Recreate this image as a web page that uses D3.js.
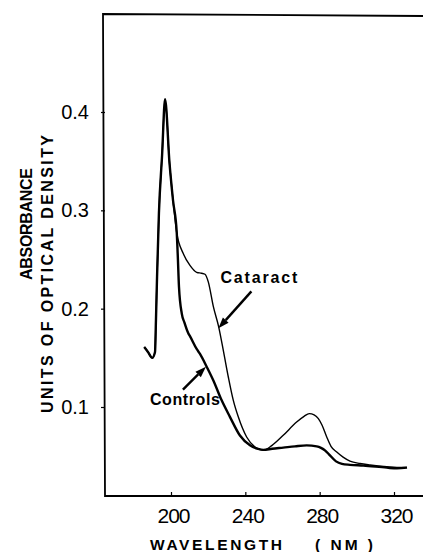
<!DOCTYPE html>
<html>
<head>
<meta charset="utf-8">
<script src="https://cdn.jsdelivr.net/npm/d3@7"></script>
<style>
    body { margin: 0; background: #fff; }
    svg { display: block; }
</style>
</head>
<body>
<svg id="spectrum" width="423" height="552"></svg>
<script>
// Data
const xTicks = [200, 240, 280, 320];
const yTicks = [0.1, 0.2, 0.3, 0.4];

const controlsWavelength = [185.6, 187.6, 189.9, 191.4, 191.9, 192.5, 193.5, 195.2, 196.8, 199.2, 201.1, 203.1,
    203.6, 204.3, 205.8, 207.2, 209.3, 210.2, 213.8, 215.6, 219.2, 222.8, 227.2, 231.7, 237.1, 242.5, 246.8, 249.7,
    254.4, 260.4, 266.7, 273.0, 278.4, 280.7, 283.0, 285.0, 288.8, 292.0, 296.3, 303.5, 316.1, 321.6, 327.0];
const controlsAbsorbance = [0.161, 0.156, 0.150, 0.156, 0.188, 0.233, 0.297, 0.356, 0.413, 0.348, 0.310, 0.277,
    0.256, 0.222, 0.195, 0.186, 0.175, 0.172, 0.159, 0.154, 0.141, 0.127, 0.107, 0.090, 0.071, 0.061, 0.0575, 0.0564,
    0.0575, 0.0587, 0.060, 0.061, 0.060, 0.0585, 0.0557, 0.0519, 0.0447, 0.0422, 0.0412, 0.0404, 0.0383, 0.0376, 0.0383];

const cataractWavelength = [185.6, 187.6, 189.9, 191.4, 191.9, 192.5, 193.5, 195.2, 196.8, 199.2, 201.1, 203.1,
    206.6, 210.2, 213.8, 216.5, 218.3, 220.1, 222.8, 225.6, 228.3, 230.9, 233.5, 236.2, 240.7, 245.2, 249.7,
    254.4, 260.4, 267.6, 271.6, 274.4, 277.0, 279.3, 281.3, 283.8, 286.1, 289.2, 292.6, 296.3, 301.7, 307.1,
    316.1, 321.6, 327.0];
const cataractAbsorbance = [0.161, 0.156, 0.150, 0.156, 0.188, 0.233, 0.297, 0.356, 0.413, 0.348, 0.310, 0.277,
    0.256, 0.244, 0.237, 0.236, 0.235, 0.227, 0.202, 0.182, 0.156, 0.130, 0.107, 0.090, 0.0695, 0.0593, 0.056,
    0.061, 0.0712, 0.0847, 0.0905, 0.0933, 0.092, 0.0882, 0.0814, 0.0695, 0.060, 0.0542, 0.0490, 0.0450, 0.0425, 0.0410,
    0.0392, 0.0385, 0.0386];

const annotLabels = ["Cataract", "Controls"];
const annotWavelength = [225.5, 218.8];
const annotAbsorbance = [0.180, 0.141];

// The svg
const svg = d3.select("#spectrum");
const frame = { left: 105, right: 423, top: 14, bottom: 496 };
const font = "Liberation Sans, Arial, sans-serif";

// scales pinned to the printed ticks
const x = d3.scaleLinear().domain([200, 320]).range([171, 394]);
const y = d3.scaleLinear().domain([0.1, 0.4]).range([407, 112]);

// open frame: top, left and bottom lines
svg.append("path")
    .attr("d", `M${frame.right},${frame.top + 2}L${frame.left - 2},${frame.top}L${frame.left},${frame.bottom}L${frame.right},${frame.bottom}`)
    .attr("fill", "none")
    .attr("stroke", "#000")
    .attr("stroke-width", 1.8);

// y axis
const yAxis = svg.append("g")
    .attr("transform", `translate(${frame.left},0)`)
    .call(d3.axisLeft(y).tickValues(yTicks).tickSize(4).tickPadding(12).tickFormat(d3.format(".1f")));
yAxis.select(".domain").remove();
yAxis.selectAll("line").attr("stroke-width", 1.2);
yAxis.selectAll("text")
    .attr("font-family", font)
    .attr("font-size", 20)
    .attr("fill", "#000");

// x axis
const xAxis = svg.append("g")
    .attr("transform", `translate(0,${frame.bottom})`)
    .call(d3.axisBottom(x).tickValues(xTicks).tickSize(-4).tickPadding(12));
xAxis.select(".domain").remove();
xAxis.selectAll("line").attr("stroke-width", 1.2);
xAxis.selectAll("text")
    .attr("font-family", font)
    .attr("font-size", 21)
    .attr("letter-spacing", -1)
    .attr("dx", 2)
    .attr("fill", "#000");

// axis titles
function title(sel, size, len, txt) {
    return sel.append("text")
        .attr("font-family", font).attr("font-weight", "bold").attr("font-size", size)
        .attr("textLength", len).attr("lengthAdjust", "spacing")
        .text(txt);
}
title(svg, 16, 112, "ABSORBANCE")
    .attr("transform", "translate(31.5,224) rotate(-90)")
    .attr("text-anchor", "middle");
title(svg, 16, 278, "UNITS OF OPTICAL DENSITY")
    .attr("transform", "translate(53,274) rotate(-90)")
    .attr("text-anchor", "middle");
title(svg, 15.5, 132, "WAVELENGTH").attr("x", 150).attr("y", 550);
title(svg, 15.5, 58, "( NM )").attr("x", 315).attr("y", 550);

// curves
const line = d3.line()
    .x(d => x(d[0]))
    .y(d => y(d[1]))
    .curve(d3.curveMonotoneX);

svg.append("path")
    .datum(d3.zip(cataractWavelength, cataractAbsorbance))
    .attr("d", line)
    .attr("fill", "none")
    .attr("stroke", "#000")
    .attr("stroke-width", 1.4)
    .attr("stroke-linejoin", "round");

svg.append("path")
    .datum(d3.zip(controlsWavelength, controlsAbsorbance))
    .attr("d", line)
    .attr("fill", "none")
    .attr("stroke", "#000")
    .attr("stroke-width", 2.4)
    .attr("stroke-linejoin", "round");

// annotations: arrow tail and label offsets from the tip, in px
const annotLayout = [
    { tail: [33, -37], text: [2, -45], len: 77 },
    { tail: [-23, 23], text: [-56, 38], len: 70 }
];

annotLabels.forEach((label, i) => {
    const tx = x(annotWavelength[i]), ty = y(annotAbsorbance[i]);
    const lay = annotLayout[i];
    const ax = tx + lay.tail[0], ay = ty + lay.tail[1];
    const len = Math.hypot(ax - tx, ay - ty);
    const ux = (ax - tx) / len, uy = (ay - ty) / len;
    const headLen = 11, headW = 3.8;
    const bx = tx + ux * headLen, by = ty + uy * headLen;

    svg.append("line")
        .attr("x1", ax).attr("y1", ay)
        .attr("x2", bx).attr("y2", by)
        .attr("stroke", "#000")
        .attr("stroke-width", 2.4);
    svg.append("path")
        .attr("d", `M${tx},${ty}L${bx - uy * headW},${by + ux * headW}L${bx + uy * headW},${by - ux * headW}Z`)
        .attr("fill", "#000");

    title(svg, 16, lay.len, label)
        .attr("x", tx + lay.text[0])
        .attr("y", ty + lay.text[1]);
});
</script>
</body>
</html>
